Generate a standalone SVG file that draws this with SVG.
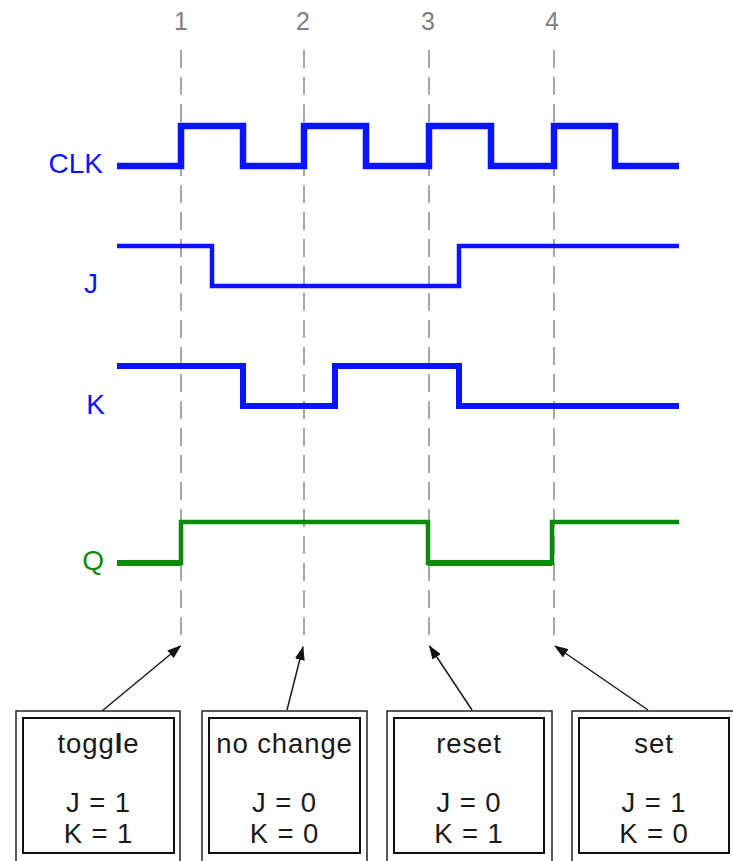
<svg xmlns="http://www.w3.org/2000/svg" width="733" height="861" viewBox="0 0 733 861">
  <style>
    .num { font-family: "Liberation Sans", Arial, sans-serif; font-size: 25px; fill: #7f7f7f; text-anchor: middle; }
    .grid { stroke: #7a7a7a; stroke-width: 1.3; stroke-dasharray: 18 9; fill: none; }
    .sig { font-family: "Liberation Sans", Arial, sans-serif; font-size: 28px; text-anchor: end; }
    .blue { fill: #0a14ff; }
    .green { fill: #0f8a0f; }
    .wave { fill: none; stroke-linejoin: miter; stroke-linecap: butt; }
    .wb { stroke: #0a14ff; }
    .wg { stroke: #0a8c0a; }
    .outer { fill: #ffffff; stroke: #222; stroke-width: 1.5; }
    .inner { fill: #ffffff; stroke: #111; stroke-width: 2; }
    .lbl { font-family: "Liberation Sans", Arial, sans-serif; font-size: 27.5px; letter-spacing: 0.9px; fill: #1a1a1a; text-anchor: middle; }
    .conn { stroke: #1a1a1a; stroke-width: 1.5; fill: none; }
  </style>
  <defs>
    <marker id="arrow" viewBox="0 0 14 10" refX="13" refY="5" markerWidth="14" markerHeight="10" markerUnits="userSpaceOnUse" orient="auto">
      <path d="M0,0 L14,5 L0,10 Z" fill="#111"/>
    </marker>
  </defs>

  <rect width="733" height="861" fill="#ffffff"/>

  <!-- clock edge markers -->
  <g id="edges">
    <text class="num" x="181" y="30">1</text>
    <text class="num" x="303" y="30">2</text>
    <text class="num" x="428" y="30">3</text>
    <text class="num" x="552" y="30">4</text>
    <line class="grid" x1="181" y1="50" x2="181" y2="643"/>
    <line class="grid" x1="304" y1="50" x2="304" y2="643"/>
    <line class="grid" x1="429" y1="50" x2="429" y2="643"/>
    <line class="grid" x1="554" y1="50" x2="554" y2="643"/>
  </g>

  <!-- CLK -->
  <g id="clk">
    <text class="sig blue" x="103" y="173">CLK</text>
    <path class="wave wb" stroke-width="6.5" d="M117,166 H181 V126 H243 V166 H304 V126 H366 V166 H429 V126 H491 V166 H554 V126 H615 V166 H679"/>
  </g>

  <!-- J -->
  <g id="j">
    <text class="sig blue" x="98" y="293">J</text>
    <path class="wave wb" stroke-width="4.5" d="M117,246 H212 V286 H459 V246 H679"/>
  </g>

  <!-- K -->
  <g id="k">
    <text class="sig blue" x="105" y="414">K</text>
    <path class="wave wb" stroke-width="6" d="M117,366 H243 V406 H335 V366 H459 V406 H679"/>
  </g>

  <!-- Q -->
  <g id="q">
    <text class="sig green" x="104" y="570">Q</text>
    <path class="wave wg" stroke-width="4.5" d="M117,563 H181 V522 H428 V563 H552 V522 H679"/>
    <path class="wave wg" stroke-width="6" d="M117,563 H181 M428,563 H552"/>
  </g>

  <!-- callout arrows -->
  <g id="connectors">
    <line class="conn" x1="102" y1="711" x2="180.5" y2="646" marker-end="url(#arrow)"/>
    <line class="conn" x1="287" y1="710" x2="303" y2="647" marker-end="url(#arrow)"/>
    <line class="conn" x1="472" y1="710" x2="429.5" y2="646" marker-end="url(#arrow)"/>
    <line class="conn" x1="648" y1="710" x2="555" y2="646" marker-end="url(#arrow)"/>
  </g>

  <!-- mode boxes -->
  <g id="box-toggle">
    <rect class="outer" x="16" y="711" width="164" height="160"/>
    <rect class="inner" x="23" y="718" width="151" height="135"/>
    <text class="lbl" x="98.5" y="753">togg<tspan font-weight="bold">l</tspan>e</text>
    <text class="lbl" x="98.5" y="812">J = 1</text>
    <text class="lbl" x="98.5" y="843">K = 1</text>
  </g>
  <g id="box-nochange">
    <rect class="outer" x="202" y="711" width="165" height="160"/>
    <rect class="inner" x="209" y="718" width="151" height="135"/>
    <text class="lbl" x="284.5" y="753">no change</text>
    <text class="lbl" x="284.5" y="812">J = 0</text>
    <text class="lbl" x="284.5" y="843">K = 0</text>
  </g>
  <g id="box-reset">
    <rect class="outer" x="387" y="711" width="165" height="160"/>
    <rect class="inner" x="394" y="718" width="150" height="135"/>
    <text class="lbl" x="469" y="753">reset</text>
    <text class="lbl" x="469" y="812">J = 0</text>
    <text class="lbl" x="469" y="843">K = 1</text>
  </g>
  <g id="box-set">
    <rect class="outer" x="572" y="711" width="165" height="160"/>
    <rect class="inner" x="579" y="718" width="150" height="135"/>
    <text class="lbl" x="654" y="753">set</text>
    <text class="lbl" x="654" y="812">J = 1</text>
    <text class="lbl" x="654" y="843">K = 0</text>
  </g>
</svg>
